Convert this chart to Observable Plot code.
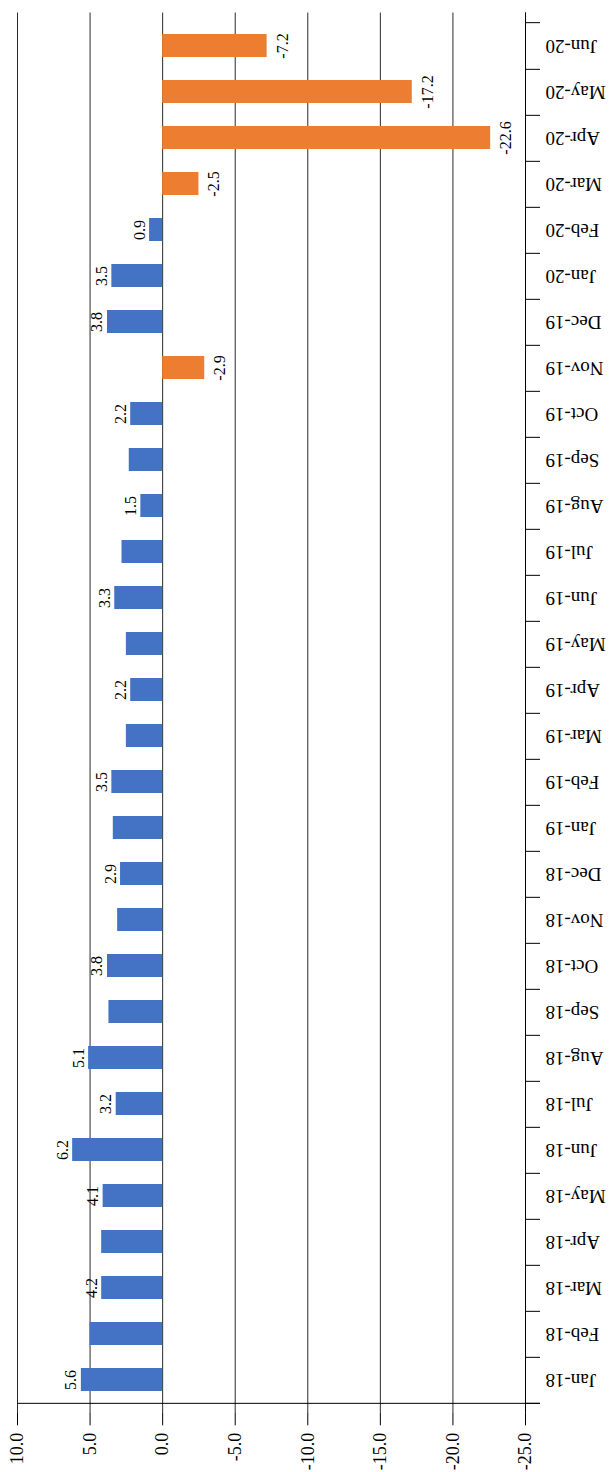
<!DOCTYPE html>
<html>
<head>
<meta charset="utf-8">
<script src="https://cdn.jsdelivr.net/npm/d3@7"></script>
<script src="https://cdn.jsdelivr.net/npm/@observablehq/plot@0.6"></script>
<style>
  html, body { margin: 0; padding: 0; background: #fff; }
</style>
</head>
<body>
<div id="chart"></div>
<script>
// Monthly change, Jan-18 to Jun-20
const months = [
  "Jan-18", "Feb-18", "Mar-18", "Apr-18", "May-18", "Jun-18",
  "Jul-18", "Aug-18", "Sep-18", "Oct-18", "Nov-18", "Dec-18",
  "Jan-19", "Feb-19", "Mar-19", "Apr-19", "May-19", "Jun-19",
  "Jul-19", "Aug-19", "Sep-19", "Oct-19", "Nov-19", "Dec-19",
  "Jan-20", "Feb-20", "Mar-20", "Apr-20", "May-20", "Jun-20"
];
const values = [
  5.6, 5.0, 4.2, 4.2, 4.1, 6.2,
  3.2, 5.1, 3.7, 3.8, 3.1, 2.9,
  3.4, 3.5, 2.5, 2.2, 2.5, 3.3,
  2.8, 1.5, 2.3, 2.2, -2.9, 3.8,
  3.5, 0.9, -2.5, -22.6, -17.2, -7.2
];
// which bars carry a value label
const labelled = [
  true, false, true, false, true, true,
  true, true, false, true, false, true,
  false, true, false, true, false, true,
  false, true, false, true, true, true,
  true, true, true, true, true, true
];
const valueTicks = [10, 5, 0, -5, -10, -15, -20, -25];

const rows = months.map((month, i) => ({month, value: values[i], labelled: labelled[i]}));

const W = 612, H = 1472;
const margin = {top: 12.5, right: 87, bottom: 59.7, left: 17};
const step = (H - margin.top - margin.bottom) / months.length;
const blue = "#4472C4", orange = "#ED7D31";
const fmt = d => d.toFixed(1);

const chart = Plot.plot({
  width: W,
  height: H,
  marginTop: margin.top,
  marginRight: margin.right,
  marginBottom: margin.bottom,
  marginLeft: margin.left,
  style: {fontFamily: "'Liberation Serif', serif", fontSize: "16px", color: "#000", background: "#fff"},
  x: {domain: [10, -25], label: null},
  y: {type: "band", domain: months.slice().reverse(), paddingInner: 0.5, paddingOuter: 0.25, label: null},
  color: {domain: ["up", "down"], range: [blue, orange]},
  marks: [
    Plot.gridX(valueTicks, {stroke: "#2b2b2b", strokeOpacity: 1}),
    Plot.barX(rows, {y: "month", x: "value", fill: d => d.value < 0 ? "down" : "up"}),
    // category axis line and band separators
    Plot.ruleX([-25], {stroke: "#000"}),
    Plot.ruleY(months, {y: d => d, x1: -25, x2: -25, insetRight: -15, dy: step / 2, stroke: "#000"}),
    Plot.ruleY([months[months.length - 1]], {y: d => d, x1: -25, x2: -25, insetRight: -15, dy: -step / 2, stroke: "#000"}),
    // value axis line
    Plot.ruleY([months[0]], {y: d => d, x1: 10, x2: -25, insetRight: -15, dy: step / 2, stroke: "#000"}),
    Plot.axisX(valueTicks, {
      anchor: "bottom", tickSize: 13, tickPadding: 7, tickRotate: -90,
      tickFormat: fmt, textAnchor: "end", lineAnchor: "middle",
      fontSize: 18, label: null, stroke: "#000"
    }),
    Plot.axisY({
      anchor: "right", tickSize: 0, tickPadding: 20, tickRotate: 180,
      textAnchor: "end", lineAnchor: "middle", fontSize: 19, label: null
    }),
    // value labels
    Plot.text(rows.filter(d => d.labelled && d.value >= 0), {
      y: "month", x: "value", text: d => fmt(d.value), rotate: -90,
      textAnchor: "middle", lineAnchor: "bottom", dx: -5, fontSize: 16, fill: "#000"
    }),
    Plot.text(rows.filter(d => d.labelled && d.value < 0), {
      y: "month", x: "value", text: d => fmt(d.value), rotate: -90,
      textAnchor: "middle", lineAnchor: "top", dx: 9, fontSize: 16, fill: "#000"
    })
  ]
});

document.getElementById("chart").appendChild(chart);
</script>
</body>
</html>
